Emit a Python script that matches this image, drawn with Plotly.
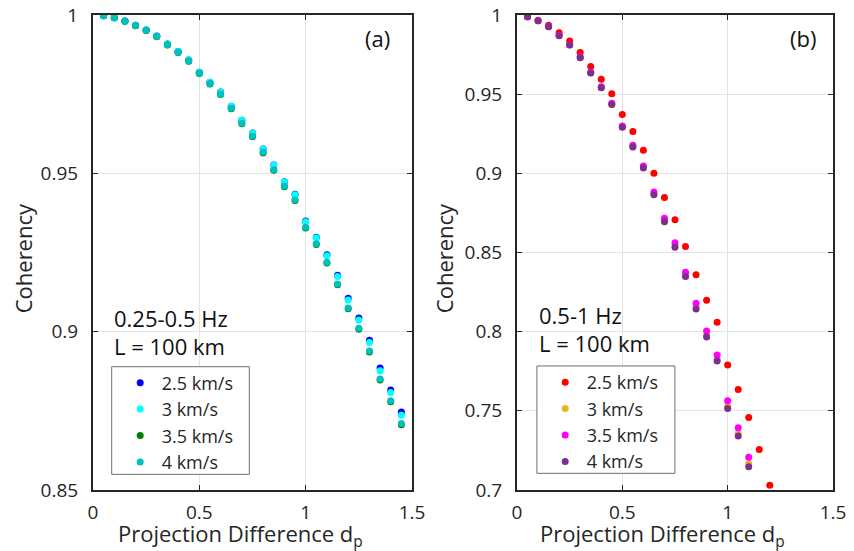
import plotly.graph_objects as go

# ---------------- data ----------------
dp_a = [0.05, 0.10, 0.15, 0.20, 0.25, 0.30, 0.35, 0.40, 0.45, 0.50,
        0.55, 0.60, 0.65, 0.70, 0.75, 0.80, 0.85, 0.90, 0.95, 1.00,
        1.05, 1.10, 1.15, 1.20, 1.25, 1.30, 1.35, 1.40, 1.45]

coh_a_25 = [0.99979, 0.99916, 0.99810, 0.99674, 0.99525, 0.99335, 0.99082, 0.98851, 0.98576, 0.98196,
            0.97880, 0.97565, 0.97122, 0.96680, 0.96270, 0.95765, 0.95260, 0.94735, 0.94336, 0.93491,
            0.92985, 0.92426, 0.91781, 0.91053, 0.90430, 0.89731, 0.88851, 0.88159, 0.87464]
coh_a_30 = [0.99979, 0.99916, 0.99810, 0.99674, 0.99525, 0.99335, 0.99082, 0.98851, 0.98576, 0.98196,
            0.97880, 0.97563, 0.97120, 0.96677, 0.96266, 0.95759, 0.95253, 0.94725, 0.94326, 0.93471,
            0.92965, 0.92396, 0.91741, 0.91003, 0.90370, 0.89661, 0.88766, 0.88079, 0.87364]
coh_a_35 = [0.99978, 0.99913, 0.99803, 0.99662, 0.99508, 0.99313, 0.99054, 0.98818, 0.98537, 0.98150,
            0.97824, 0.97487, 0.97043, 0.96566, 0.96154, 0.95646, 0.95097, 0.94576, 0.94145, 0.93276,
            0.92750, 0.92167, 0.91482, 0.90722, 0.90075, 0.89358, 0.88471, 0.87784, 0.87064]
coh_a_40 = [0.99979, 0.99914, 0.99805, 0.99665, 0.99512, 0.99318, 0.99060, 0.98825, 0.98545, 0.98160,
            0.97835, 0.97500, 0.97057, 0.96582, 0.96171, 0.95665, 0.95117, 0.94598, 0.94168, 0.93300,
            0.92775, 0.92193, 0.91509, 0.90750, 0.90105, 0.89389, 0.88503, 0.87816, 0.87098]

dp_b_red = [0.05, 0.10, 0.15, 0.20, 0.25, 0.30, 0.35, 0.40, 0.45, 0.50,
            0.55, 0.60, 0.65, 0.70, 0.75, 0.80, 0.85, 0.90, 0.95, 1.00,
            1.05, 1.10, 1.15, 1.20]
coh_b_25 = [0.99892, 0.99665, 0.99348, 0.98880, 0.98354, 0.97639, 0.96753, 0.95949, 0.95019, 0.93715,
            0.92639, 0.91456, 0.90000, 0.88481, 0.87070, 0.85380, 0.83589, 0.81981, 0.80589, 0.77892,
            0.76348, 0.74576, 0.72551, 0.70297]

dp_b = [0.05, 0.10, 0.15, 0.20, 0.25, 0.30, 0.35, 0.40, 0.45, 0.50,
        0.55, 0.60, 0.65, 0.70, 0.75, 0.80, 0.85, 0.90, 0.95, 1.00,
        1.05, 1.10]
coh_b_30 = [0.99892, 0.99639, 0.99265, 0.98700, 0.98112, 0.97312, 0.96348, 0.95418, 0.94371, 0.92936,
            0.91697, 0.90373, 0.88701, 0.87011, 0.85419, 0.83563, 0.81543, 0.79779, 0.78260, 0.75292,
            0.73570, 0.71653]
coh_b_35 = [0.99892, 0.99639, 0.99278, 0.98722, 0.98139, 0.97348, 0.96392, 0.95462, 0.94424, 0.92993,
            0.91773, 0.90462, 0.88817, 0.87171, 0.85613, 0.83753, 0.81791, 0.80045, 0.78526, 0.75633,
            0.73924, 0.72070]
coh_b_40 = [0.99892, 0.99639, 0.99259, 0.98690, 0.98101, 0.97297, 0.96329, 0.95399, 0.94348, 0.92911,
            0.91665, 0.90335, 0.88652, 0.86943, 0.85335, 0.83481, 0.81437, 0.79665, 0.78146, 0.75146,
            0.73418, 0.71475]

labels = ["2.5 km/s", "3 km/s", "3.5 km/s", "4 km/s"]
colors_a = ["#0000ff", "#00ffff", "#008000", "#00bfbf"]
colors_b = ["#ff0000", "#edb120", "#ff00ff", "#7e2f8e"]

x_ticks = [0, 0.5, 1, 1.5]
x_ticktext = ["0", "0.5", "1", "1.5"]
ya_ticks = [0.85, 0.9, 0.95, 1]
ya_ticktext = ["0.85", "0.9", "0.95", "1"]
yb_ticks = [0.7, 0.75, 0.8, 0.85, 0.9, 0.95, 1]
yb_ticktext = ["0.7", "0.75", "0.8", "0.85", "0.9", "0.95", "1"]

x_title = "Projection Difference d<sub>p</sub>"
y_title = "Coherency"

# ---------------- figure ----------------
FONT = "Open Sans"
TXT = "#262626"

fig = go.Figure()

series_a = [(dp_a, coh_a_25), (dp_a, coh_a_30), (dp_a, coh_a_35), (dp_a, coh_a_40)]
for (xs, ys), lab, col in zip(series_a, labels, colors_a):
    fig.add_trace(go.Scatter(x=xs, y=ys, mode="markers", name=lab,
                             marker=dict(color=col, size=7, line=dict(width=0)),
                             xaxis="x", yaxis="y", legend="legend"))

series_b = [(dp_b_red, coh_b_25), (dp_b, coh_b_30), (dp_b, coh_b_35), (dp_b, coh_b_40)]
for (xs, ys), lab, col in zip(series_b, labels, colors_b):
    fig.add_trace(go.Scatter(x=xs, y=ys, mode="markers", name=lab,
                             marker=dict(color=col, size=7, line=dict(width=0)),
                             xaxis="x2", yaxis="y2", legend="legend2"))

axis_common = dict(showline=True, mirror="ticks", linecolor=TXT, linewidth=2,
                   ticks="inside", ticklen=5, tickwidth=1, tickcolor=TXT,
                   showgrid=True, gridcolor="#e3e3e3", gridwidth=1, zeroline=False,
                   tickfont=dict(family=FONT, size=19, color=TXT), automargin=False,
                   ticklabeloverflow="allow")

# page body adds an 8px offset; figure is sized to fit the window
W, H = 846, 543
L, R, T, B = 85, 21, 7, 61
pw = W - L - R
ph = H - T - B
OFF = 8

title_font = dict(family=FONT, size=22, color=TXT)
leg_common = dict(xanchor="left", yanchor="top", bgcolor="rgba(0,0,0,0)",
                  borderwidth=0, indentation=7, itemwidth=33,
                  font=dict(family=FONT, size=18, color=TXT))

fig.update_layout(
    width=W, height=H,
    margin=dict(l=L, r=R, t=T, b=B),
    paper_bgcolor="white", plot_bgcolor="white",
    font=dict(family=FONT, color=TXT),
    xaxis=dict(domain=[0, (412 - OFF - L) / pw], range=[0, 1.5], tickvals=x_ticks, ticktext=x_ticktext,
               ticklabelstandoff=4, anchor="y", **axis_common),
    yaxis=dict(domain=[0, 1], range=[0.85, 1], tickvals=ya_ticks, ticktext=ya_ticktext,
               ticklabelstandoff=9, anchor="x", **axis_common),
    xaxis2=dict(domain=[(517 - OFF - L) / pw, 1], range=[0, 1.5], tickvals=x_ticks, ticktext=x_ticktext,
                ticklabelstandoff=4, anchor="y2", **axis_common),
    yaxis2=dict(domain=[0, 1], range=[0.7, 1], tickvals=yb_ticks, ticktext=yb_ticktext,
                ticklabelstandoff=9, anchor="x2", **axis_common),
    legend=dict(x=(111.7 - OFF - L) / pw, y=1 - (364.5 - OFF - T) / ph, **leg_common),
    legend2=dict(x=(536.7 - OFF - L) / pw, y=1 - (364 - OFF - T) / ph, **leg_common),
    showlegend=True,
)

# legend frames (opaque white, drawn over the gridlines, under the markers)
for xr, yr, x0, x1, y0, y1 in [("x", "y", 0.0879, 0.7350, 0.85495, 0.88894),
                               ("x2", "y2", 0.0945, 0.7496, 0.71053, 0.77833)]:
    fig.add_shape(type="rect", xref=xr, yref=yr, x0=x0, x1=x1, y0=y0, y1=y1,
                  fillcolor="white", line=dict(color="#6e6e6e", width=1), layer="between")

ann_font = dict(family=FONT, size=22, color="#111111")
annots = [
    ("x domain", "y domain", 0.893, 0.952, "(a)", "center"),
    ("x domain", "y domain", 0.058, 0.362, "0.25-0.5 Hz", "left"),
    ("x domain", "y domain", 0.058, 0.303, "L = 100 km", "left"),
    ("x2 domain", "y2 domain", 0.904, 0.952, "(b)", "center"),
    ("x2 domain", "y2 domain", 0.063, 0.368, "0.5-1 Hz", "left"),
    ("x2 domain", "y2 domain", 0.063, 0.309, "L = 100 km", "left"),
]
for xr, yr, xx, yy, txt, xa in annots:
    fig.add_annotation(xref=xr, yref=yr, x=xx, y=yy, text=txt, showarrow=False,
                       xanchor=xa, yanchor="middle", font=ann_font)

# axis titles (placed like the original figure)
for xr, yr, xx, yy, txt, ang in [("x domain", "y domain", 0.461, -0.095, x_title, 0),
                                 ("x2 domain", "y2 domain", 0.459, -0.095, x_title, 0),
                                 ("x domain", "y domain", -0.2191, 0.488, y_title, -90),
                                 ("x2 domain", "y2 domain", -0.231, 0.488, y_title, -90)]:
    fig.add_annotation(xref=xr, yref=yr, x=xx, y=yy, text=txt, showarrow=False,
                       xanchor="center", yanchor="middle", textangle=ang, font=title_font)

fig.write_html("out.html")
